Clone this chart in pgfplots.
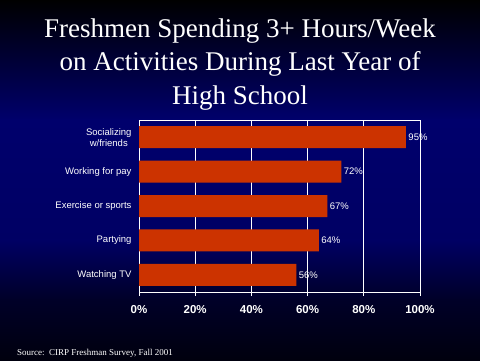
\documentclass[border=0pt]{standalone}
\usepackage{pgfplots}
\pgfplotsset{compat=1.18}
\usepackage{fontspec}
\setmainfont{Liberation Serif}
\newfontfamily\arial{Liberation Sans}
\definecolor{barred}{RGB}{204,51,0}
\definecolor{bga}{RGB}{0,0,108}
\definecolor{bgb}{RGB}{0,0,100}
\definecolor{bgc}{RGB}{0,0,40}
\definecolor{bgd}{RGB}{0,0,14}
\begin{document}
\begin{tikzpicture}[x=1bp,y=1bp]
\shade[top color=black, bottom color=bga] (0,240) rectangle (480,360);
\shade[top color=bga, bottom color=bgb] (0,120) rectangle (480,240.2);
\shade[top color=bgb, bottom color=bgc] (0,60) rectangle (480,120.2);
\shade[top color=bgc, bottom color=bgd] (0,0) rectangle (480,60.2);
\begin{scope}[every node/.style={text=white, anchor=base, font=\fontsize{27bp}{33bp}\selectfont, inner sep=0pt}]
\node at (240,323) {Freshmen Spending 3+ Hours/Week};
\node at (240,289.5) {on Activities During Last Year of};
\node at (240,256) {High School};
\end{scope}
\node[text=white, anchor=base west, inner sep=0pt, font=\fontsize{9bp}{10bp}\selectfont] at (17,5)
  {Source:\ \ CIRP Freshman Survey, Fall 2001};
\begin{axis}[
  at={(139bp,68bp)}, anchor=south west,
  scale only axis, width=281bp, height=172bp,
  xbar, bar width=22bp,
  xmin=0, xmax=100, ymin=-0.5, ymax=4.5,
  /pgf/number format/assume math mode=true,
  axis line style={white, line width=1bp},
  xmajorgrids, grid style={white, line width=1bp},
  xtick={0,20,...,100},
  xticklabel={\pgfmathprintnumber{\tick}\%},
  xticklabel style={font=\arial\bfseries\fontsize{11.5bp}{13bp}\selectfont, text=white, yshift=-6bp},
  ytick={0,1,2,3,4},
  yticklabels={Watching TV, Partying, Exercise or sports, Working for pay, {Socializing\\w/friends}},
  yticklabel style={font=\arial\fontsize{9.5bp}{11bp}\selectfont, text=white, align=center},
  y tick style={draw=none},
  x tick style={white, line width=1bp},
  extra y ticks={-0.5,0.5,1.5,2.5,3.5,4.5},
  extra y tick labels={},
  extra y tick style={tick style={white, line width=1bp, draw=white}, major tick length=4bp},
  tick align=outside, major tick length=4bp,
  xtick pos=bottom, ytick pos=left,
  nodes near coords={\pgfmathprintnumber{\pgfplotspointmeta}\%},
  point meta=x,
  nodes near coords style={font=\arial\fontsize{9.5bp}{10bp}\selectfont, text=white, xshift=-1bp},
]
\addplot[fill=barred, draw=none] coordinates {(56,0) (64,1) (67,2) (72,3) (95,4)};
\end{axis}
\pgfresetboundingbox
\useasboundingbox (0,0) rectangle (480,360);
\end{tikzpicture}
\end{document}
